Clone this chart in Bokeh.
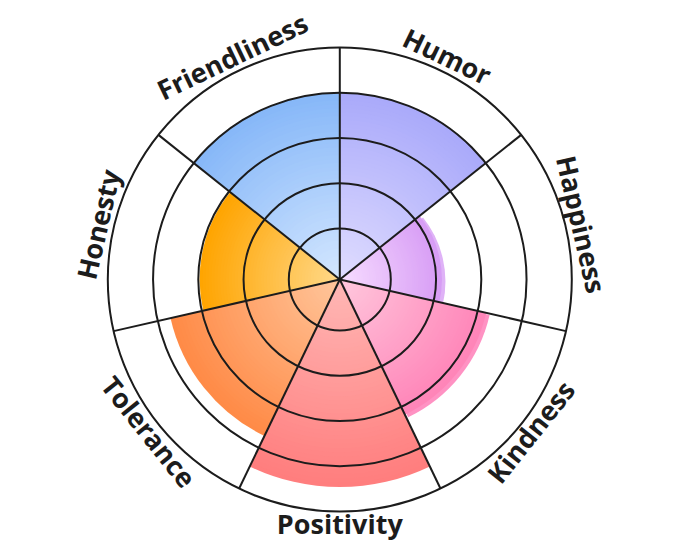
import math
from bokeh.plotting import figure
from bokeh.models import Range1d, ColumnDataSource
from bokeh.core.properties import value
from bokeh.embed import file_html
from bokeh.resources import INLINE

# ---- data ----
categories = ["Humor", "Happiness", "Kindness", "Positivity", "Tolerance", "Honesty", "Friendliness"]
scores = [4.0, 2.13, 3.19, 4.46, 3.71, 2.97, 4.0]
ring_ticks = [1, 2, 3, 4, 5]
inner_colors = ["#e0ddff", "#f7ddff", "#ffc8dd", "#ffb8b6", "#ffc69c", "#ffd98a", "#d4e7ff"]
outer_colors = ["#a9a9fa", "#d79cf5", "#ff84b8", "#ff7d7d", "#ff8a46", "#ffa400", "#86b7f8"]
shadow_colors = {1: "#dfb2f7", 2: "#ff92c3"}

# ---- scale / layout ----
SCALE_MIN, SCALE_MAX = -0.127, 5.0
R_OUT = 232.0
N_BANDS = 48
LINE = "#1c1c1c"

def rad(v):
    return (v - SCALE_MIN) / (SCALE_MAX - SCALE_MIN) * R_OUT

def hex2rgb(h):
    h = h.lstrip("#")
    return tuple(int(h[i:i + 2], 16) for i in (0, 2, 4))

def mix(c1, c2, t):
    a, b = hex2rgb(c1), hex2rgb(c2)
    return "#%02x%02x%02x" % tuple(int(round(a[k] + (b[k] - a[k]) * t)) for k in range(3))

n = len(categories)
w = 2 * math.pi / n

def sector_angles(i):
    # clockwise from 12 o'clock
    end = math.pi / 2 - i * w
    start = end - w
    return start, end

p = figure(width=672, height=548, x_range=Range1d(-339.3, 332.7), y_range=Range1d(-269, 279),
           output_backend="svg", toolbar_location=None, min_border=0)
p.axis.visible = False
p.grid.visible = False
p.outline_line_color = None
p.background_fill_color = "white"
p.border_fill_color = "white"

# shadows
for i, col in shadow_colors.items():
    s, e = sector_angles(i)
    p.wedge(x=3, y=-2, radius=rad(scores[i]) + 0.5, start_angle=s, end_angle=e,
            fill_color=col, line_color=None)

# gradient-filled sectors (drawn as stacked wedges, largest first)
xs, ys, rs, sa, ea, cols = [], [], [], [], [], []
for j in range(N_BANDS, 0, -1):
    for i in range(n):
        s, e = sector_angles(i)
        r = rad(scores[i])
        xs.append(0); ys.append(0)
        rs.append(r * j / N_BANDS)
        sa.append(s); ea.append(e)
        cols.append(mix(inner_colors[i], outer_colors[i], (j - 0.5) / N_BANDS))
src = ColumnDataSource(dict(x=xs, y=ys, r=rs, s=sa, e=ea, c=cols))
p.wedge(x="x", y="y", radius="r", start_angle="s", end_angle="e", fill_color="c",
        line_color=None, source=src)

# grid rings
p.circle(x=[0] * len(ring_ticks), y=[0] * len(ring_ticks), radius=[rad(t) for t in ring_ticks],
         fill_color=None, line_color=LINE, line_width=2)

# spokes
bx = [R_OUT * math.cos(math.pi / 2 - k * w) for k in range(n)]
by = [R_OUT * math.sin(math.pi / 2 - k * w) for k in range(n)]
p.segment(x0=[0] * n, y0=[0] * n, x1=bx, y1=by, line_color=LINE, line_width=2)

# labels
lx, ly, la = [], [], []
for i in range(n):
    phi = math.pi / 2 - (i + 0.5) * w
    if math.sin(phi) >= -1e-9:
        d = 248
        ang = phi - math.pi / 2
    else:
        d = 244
        ang = phi + math.pi / 2
    lx.append(d * math.cos(phi)); ly.append(d * math.sin(phi)); la.append(ang)
p.text(x=lx, y=ly, text=categories, angle=la, text_align="center", text_baseline="middle",
       text_font=value("Open Sans"), text_font_style="bold", text_font_size="27px",
       text_color="#1c1c1c")

open("out.html", "w").write(file_html(p, INLINE))
